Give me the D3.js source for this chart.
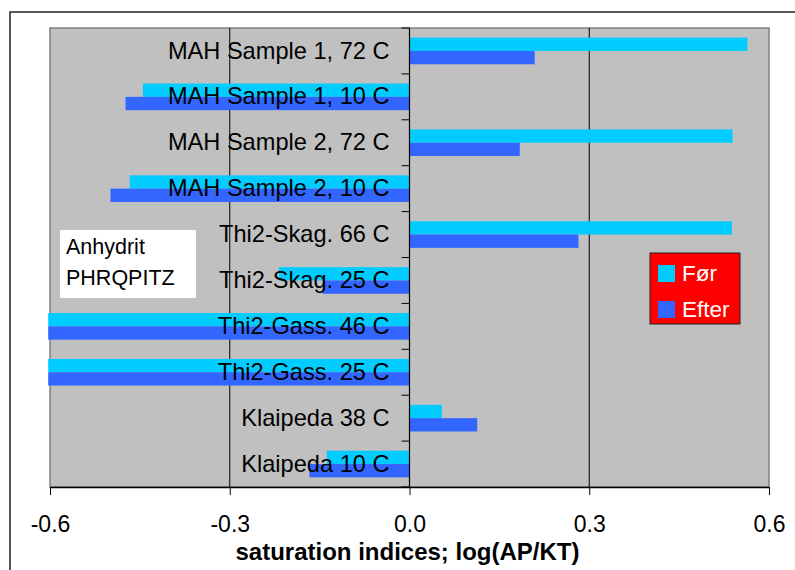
<!DOCTYPE html>
<html>
<head>
<meta charset="utf-8">
<script src="https://cdn.jsdelivr.net/npm/d3@7"></script>
<style>
  html, body { margin: 0; padding: 0; background: #ffffff; }
  svg { display: block; font-family: "Liberation Sans", Arial, sans-serif; }
</style>
</head>
<body>
<svg id="chart" width="795" height="570"></svg>
<script>
const categories = [
  "MAH Sample 1, 72 C", "MAH Sample 1, 10 C", "MAH Sample 2, 72 C", "MAH Sample 2, 10 C",
  "Thi2-Skag. 66 C", "Thi2-Skag. 25 C", "Thi2-Gass. 46 C", "Thi2-Gass. 25 C",
  "Klaipeda 38 C", "Klaipeda 10 C"
];
const seriesNames = ["Før", "Efter"];
const forValues   = [0.564, -0.445, 0.539, -0.467, 0.538, -0.218, -0.603, -0.603, 0.054, -0.138];
const efterValues = [0.209, -0.474, 0.184, -0.499, 0.282, -0.145, -0.603, -0.603, 0.113, -0.167];
const xTicks = [-0.6, -0.3, 0.0, 0.3, 0.6];
const xTitle = "saturation indices; log(AP/KT)";
const noteLines = ["Anhydrit", "PHRQPITZ"];
const colors = { "Før": "#00CCFF", "Efter": "#3366FF" };

const svg = d3.select("#chart");
const plot = { left: 50, top: 28, right: 769, bottom: 487 };

// outer chart frame
svg.append("rect").attr("x", 10).attr("y", 12).attr("width", 800).attr("height", 600)
  .attr("fill", "#ffffff").attr("stroke", "#222").attr("stroke-width", 1.5);

const x = d3.scaleLinear().domain([-0.6, 0.6]).range([plot.left, plot.right]);
const y = d3.scaleBand().domain(categories).range([plot.top, plot.bottom])
  .paddingInner(0.42).paddingOuter(0.21);
const ys = d3.scaleBand().domain(seriesNames).range([0, y.bandwidth()]);

// plot background
svg.append("rect").attr("x", plot.left).attr("y", plot.top)
  .attr("width", plot.right - plot.left).attr("height", plot.bottom - plot.top)
  .attr("fill", "#C0C0C0").attr("stroke", "#808080").attr("stroke-width", 1.5);

// vertical gridlines
svg.append("g").selectAll("line").data([-0.3, 0.3]).join("line")
  .attr("x1", d => x(d)).attr("x2", d => x(d))
  .attr("y1", plot.top).attr("y2", plot.bottom)
  .attr("stroke", "#000").attr("stroke-width", 1);

// bars
const rows = categories.map((c, i) => ({ c, vals: [
  { s: "Før", v: forValues[i] }, { s: "Efter", v: efterValues[i] } ] }));
svg.append("g").selectAll("g").data(rows).join("g")
  .attr("transform", d => `translate(0,${y(d.c)})`)
  .selectAll("rect").data(d => d.vals).join("rect")
  .attr("x", d => x(Math.min(0, d.v)))
  .attr("width", d => Math.abs(x(d.v) - x(0)))
  .attr("y", d => ys(d.s))
  .attr("height", ys.bandwidth())
  .attr("fill", d => colors[d.s]);

// zero axis line and category boundary ticks
svg.append("line").attr("x1", x(0)).attr("x2", x(0))
  .attr("y1", plot.top).attr("y2", plot.bottom).attr("stroke", "#000").attr("stroke-width", 1.2);
const bounds = d3.range(categories.length + 1).map(i => plot.top + i * y.step());
svg.append("g").selectAll("line").data(bounds).join("line")
  .attr("x1", x(0) - 8).attr("x2", x(0)).attr("y1", d => d).attr("y2", d => d)
  .attr("stroke", "#000").attr("stroke-width", 1);

// category labels
const yAxis = svg.append("g").attr("transform", `translate(${x(0)},0)`)
  .call(d3.axisLeft(y).tickSize(0).tickPadding(20));
yAxis.select(".domain").remove();
yAxis.selectAll("text").attr("font-size", 23.6).attr("fill", "#000")
  .attr("font-family", "'Liberation Sans', Arial, sans-serif");

// bottom axis
const xAxis = svg.append("g").attr("transform", `translate(0,${plot.bottom})`)
  .call(d3.axisBottom(x).tickValues(xTicks).tickFormat(d => d.toFixed(1))
    .tickSize(8).tickPadding(21).tickSizeOuter(0));
xAxis.select(".domain").attr("stroke", "#000").attr("stroke-width", 1.5);
xAxis.selectAll(".tick line").attr("stroke", "#000");
xAxis.selectAll("text").attr("font-size", 23).attr("fill", "#000")
  .attr("font-family", "'Liberation Sans', Arial, sans-serif");

// axis title
svg.append("text").attr("x", (plot.left + plot.right) / 2 - 2).attr("y", 560)
  .attr("text-anchor", "middle").attr("font-size", 24).attr("font-weight", "bold")
  .text(xTitle);

// note box
svg.append("rect").attr("x", 60).attr("y", 230).attr("width", 136).attr("height", 68)
  .attr("fill", "#ffffff");
svg.append("g").selectAll("text").data(noteLines).join("text")
  .attr("x", 66).attr("y", (d, i) => 254 + i * 31)
  .attr("font-size", 21.5).attr("fill", "#000").text(d => d);

// legend
const lg = svg.append("g");
lg.append("rect").attr("x", 650).attr("y", 253).attr("width", 90).attr("height", 71)
  .attr("fill", "#FF0000").attr("stroke", "#222").attr("stroke-width", 1);
const li = lg.selectAll("g").data(seriesNames).join("g")
  .attr("transform", (d, i) => `translate(658,${265 + i * 36})`);
li.append("rect").attr("width", 17).attr("height", 17).attr("fill", d => colors[d]);
li.append("text").attr("x", 24).attr("y", 16).attr("font-size", 22.5)
  .attr("fill", "#ffffff").text(d => d);
</script>
</body>
</html>
